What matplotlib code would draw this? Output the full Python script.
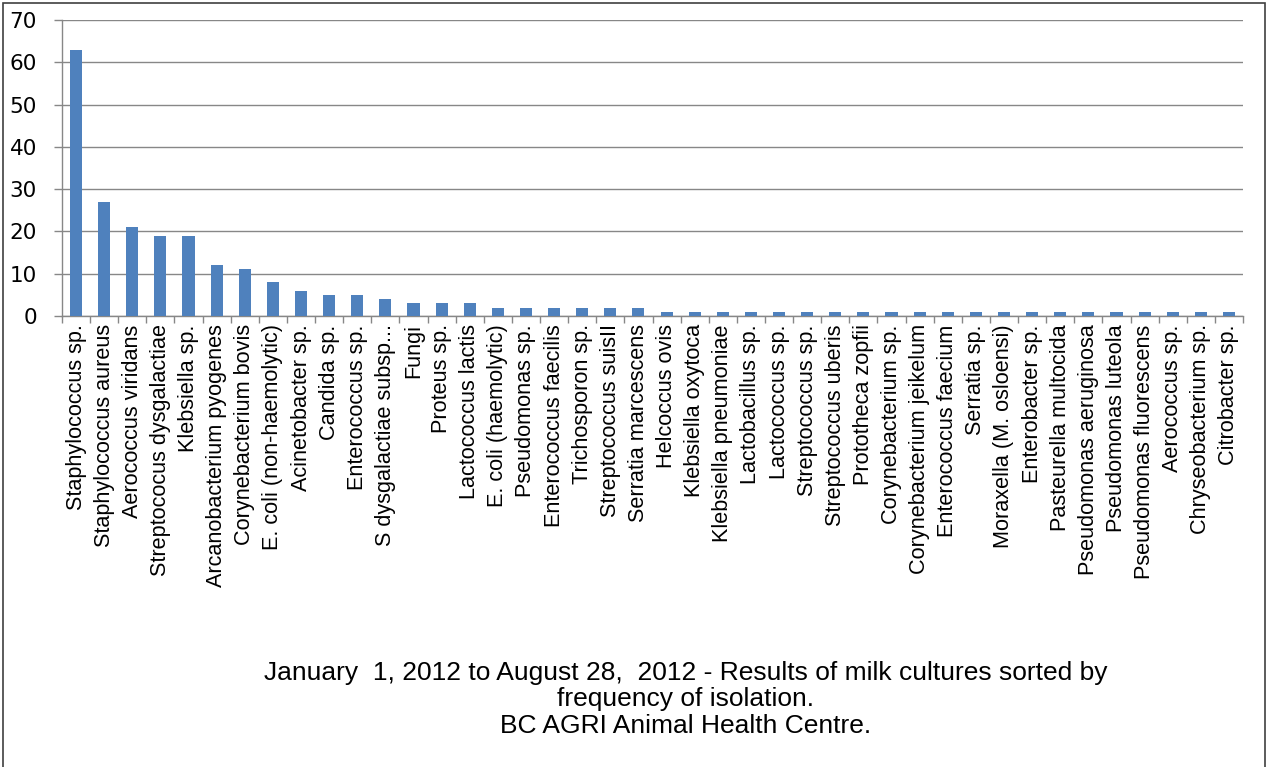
import numpy as np
import matplotlib
matplotlib.use('Agg')
import matplotlib.pyplot as plt
from matplotlib import font_manager
from matplotlib.patches import Rectangle

organisms = [
    'Staphylococcus sp.', 'Staphylococcus aureus', 'Aerococcus viridans',
    'Streptococus dysgalactiae', 'Klebsiella sp.', 'Arcanobacterium pyogenes',
    'Corynebacterium bovis', 'E. coli (non-haemolytic)', 'Acinetobacter sp.',
    'Candida sp.', 'Enterococcus sp.', 'S dysgalactiae subsp...', 'Fungi',
    'Proteus sp.', 'Lactococcus lactis', 'E. coli (haemolytic)',
    'Pseudomonas sp.', 'Enterococcus faecilis', 'Trichosporon sp.',
    'Streptococcus suisII', 'Serratia marcescens', 'Helcoccus ovis',
    'Klebsiella oxytoca', 'Klebsiella pneumoniae', 'Lactobacillus sp.',
    'Lactococcus sp.', 'Streptococcus sp.', 'Streptococcus uberis',
    'Prototheca zopfii', 'Corynebacterium sp.', 'Corynebacterium jeikelum',
    'Enterococcus faecium', 'Serratia sp.', 'Moraxella (M. osloensi)',
    'Enterobacter sp.', 'Pasteurella multocida', 'Pseudomonas aeruginosa',
    'Pseudomonas luteola', 'Pseudomonas fluorescens', 'Aerococcus sp.',
    'Chryseobacterium sp.', 'Citrobacter sp.',
]
isolations = [63, 27, 21, 19, 19, 12, 11, 8, 6, 5, 5, 4, 3, 3, 3,
              2, 2, 2, 2, 2, 2,
              1, 1, 1, 1, 1, 1, 1, 1, 1, 1, 1, 1, 1, 1, 1, 1, 1, 1, 1, 1, 1]
y_ticks = [0, 10, 20, 30, 40, 50, 60, 70]

caption = ('January  1, 2012 to August 28,  2012 - Results of milk cultures sorted by\n'
           'frequency of isolation.\n'
           'BC AGRI Animal Health Centre.')

installed = {f.name for f in font_manager.fontManager.ttflist}
narrow = 'Liberation Sans Narrow' if 'Liberation Sans Narrow' in installed else 'Liberation Sans'

fig = plt.figure(figsize=(12.67, 7.67), dpi=100)
ax = fig.add_axes([62 / 1267, 1 - 316 / 767, (1243 - 62) / 1267, (316 - 20) / 767])

x = np.arange(len(organisms))
ax.bar(x, isolations, width=0.43, color='#4F81BD', zorder=3)

ax.set_xlim(-0.5, len(organisms) - 0.5)
ax.set_ylim(0, 70)
ax.set_yticks(y_ticks)
ax.set_yticklabels([str(v) for v in y_ticks], fontsize=15.5, family='DejaVu Sans')
ax.grid(axis='y', color='#878787', linewidth=1.0, zorder=0)

# category labels centred under bars, tick marks between categories
ax.set_xticks(x)
ax.set_xticklabels(organisms, rotation=90, fontsize=15.6, family='Liberation Sans',
                   ha='center', va='top')
ax.tick_params(axis='x', length=0, pad=6)
ax.set_xticks(np.arange(len(organisms) + 1) - 0.5, minor=True)
ax.tick_params(axis='x', which='minor', length=5, color='#878787', width=1)
ax.tick_params(axis='y', length=6, color='#878787', width=1, pad=12)

for side in ['top', 'right']:
    ax.spines[side].set_visible(False)
for side in ['left', 'bottom']:
    ax.spines[side].set_color('#878787')
    ax.spines[side].set_linewidth(1.0)

fig.text(686 / 1267, 1 - 661 / 767, caption, ha='center', va='top',
         fontsize=19, family=narrow, linespacing=1.12)

# chart area frame
fig.patches.append(Rectangle((3 / 1267, -0.01), 1262 / 1267, 1 - 3 / 767 + 0.01,
                             transform=fig.transFigure, fill=False,
                             edgecolor='#404040', linewidth=1.2))

fig.savefig('out.png', dpi=100)
